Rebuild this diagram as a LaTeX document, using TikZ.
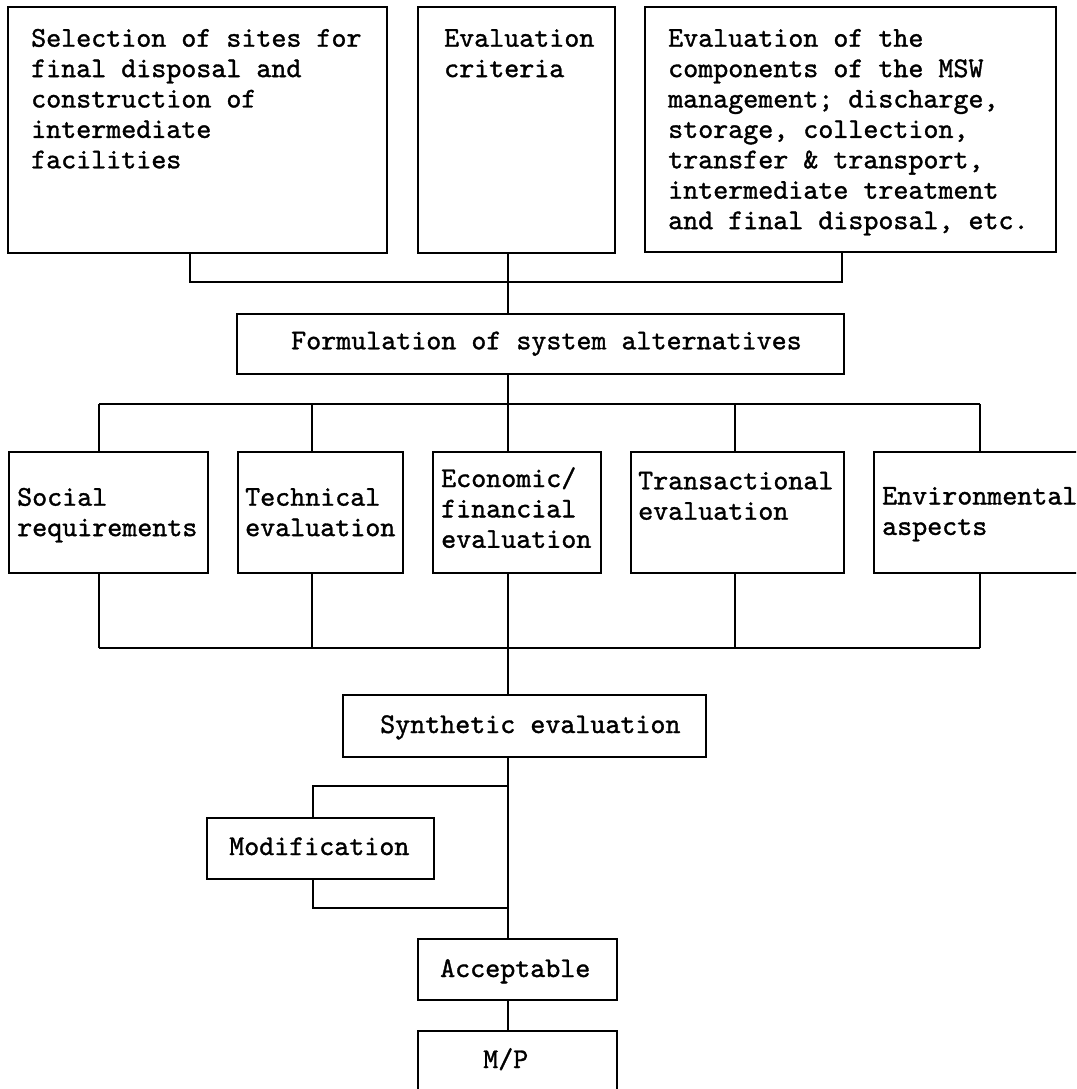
\documentclass[tikz,border=0pt]{standalone}
\usepackage{fontspec}
\setmonofont{lmmono10-regular}[Extension=.otf, FakeBold=1.2]
\newcommand\bl[1]{\begin{tabular}[t]{@{}l@{}}#1\end{tabular}}
\begin{document}
\begin{tikzpicture}[x=1pt,y=-1pt,
  box/.style={draw, line width=1.8pt, inner sep=0pt, anchor=north west},
  txt/.style={inner sep=0pt, anchor=base west, font=\ttfamily\fontsize{28.6}{30.4}\selectfont},
  link/.style={line width=1.8pt}]
\useasboundingbox (0,0) rectangle (1076,1089);
\clip (0,0) rectangle (1076,1089);
% boxes
\node[box, minimum width=379pt, minimum height=246pt] (b1) at (7,6) {};
\node[box, minimum width=197pt, minimum height=246pt] (b2) at (417,6) {};
\node[box, minimum width=411pt, minimum height=245pt] (b3) at (644,6) {};
\node[box, minimum width=607pt, minimum height=60pt] (fm) at (236,313) {};
\node[box, minimum width=199pt, minimum height=121pt] (s1) at (8,451) {};
\node[box, minimum width=165pt, minimum height=121pt] (s2) at (237,451) {};
\node[box, minimum width=168pt, minimum height=121pt] (s3) at (432,451) {};
\node[box, minimum width=213pt, minimum height=121pt] (s4) at (630,451) {};
\node[box, minimum width=220pt, minimum height=121pt] (s5) at (873,451) {};
\node[box, minimum width=363pt, minimum height=62pt] (sy) at (342,694) {};
\node[box, minimum width=227pt, minimum height=61pt] (md) at (206,817) {};
\node[box, minimum width=199pt, minimum height=61pt] (ac) at (417,938) {};
\node[box, minimum width=199pt, minimum height=80pt] (mp) at (417,1030) {};
% texts
\node[txt] (x1) at (31,46.7) {\bl{Selection of sites for\\final disposal and\\construction of\\intermediate\\facilities}};
\node[txt] (x2) at (444,46.7) {\bl{Evaluation\\criteria}};
\node[txt] (x3) at (668,46.7) {\bl{Evaluation of the\\components of the MSW\\management; discharge,\\storage, collection,\\transfer \& transport,\\intermediate treatment\\and final disposal, etc.}};
\node[txt] (xf) at (291,349.3) {Formulation of system alternatives};
\node[txt] (y1) at (17,505.7) {\bl{Social\\requirements}};
\node[txt] (y2) at (245,505.7) {\bl{Technical\\evaluation}};
\node[txt] (y3) at (441,487) {\bl{Economic/\\financial\\evaluation}};
\node[txt] (y4) at (638,489.3) {\bl{Transactional\\evaluation}};
\node[txt] (y5) at (882,504.5) {\bl{Environmental\\aspects}};
\node[txt] (xs) at (380,733) {Synthetic evaluation};
\node[txt] (xm) at (229,855) {Modification};
\node[txt] (xa) at (440,977) {Acceptable};
\node[txt] (xp) at (483,1068) {M/P};
% junction coordinates
\coordinate (t1) at (190,282);
\coordinate (t3) at (842,282);
\coordinate (cx) at (508,282);
\coordinate (d1) at (99,404);
\coordinate (d2) at (312,404);
\coordinate (d3) at (508,404);
\coordinate (d4) at (735,404);
\coordinate (d5) at (980,404);
\coordinate (e1) at (99,648);
\coordinate (e2) at (312,648);
\coordinate (e3) at (508,648);
\coordinate (e4) at (735,648);
\coordinate (e5) at (980,648);
\coordinate (l1) at (313,786);
\coordinate (l2) at (313,908);
% connectors
\draw[link] (b1.south -| t1) |- (t3) -- (b3.south -| t3);
\draw[link] (b2.south -| cx) -- (fm.north -| cx);
\draw[link] (fm.south -| d3) -- (d3);
\draw[link] (d1) -- (d5);
\draw[link] (e1) -- (e5);
\foreach \i in {1,...,5} {
  \draw[link] (d\i) -- (s\i.north -| d\i);
  \draw[link] (s\i.south -| e\i) -- (e\i);
}
\draw[link] (e3) -- (sy.north -| e3);
\draw[link] (sy.south -| e3) -- (ac.north -| e3);
\draw[link] (l1 -| e3) -- (l1) -- (md.north -| l1);
\draw[link] (md.south -| l2) -- (l2) -- (l2 -| e3);
\draw[link] (ac.south -| e3) -- (mp.north -| e3);
\end{tikzpicture}
\end{document}
